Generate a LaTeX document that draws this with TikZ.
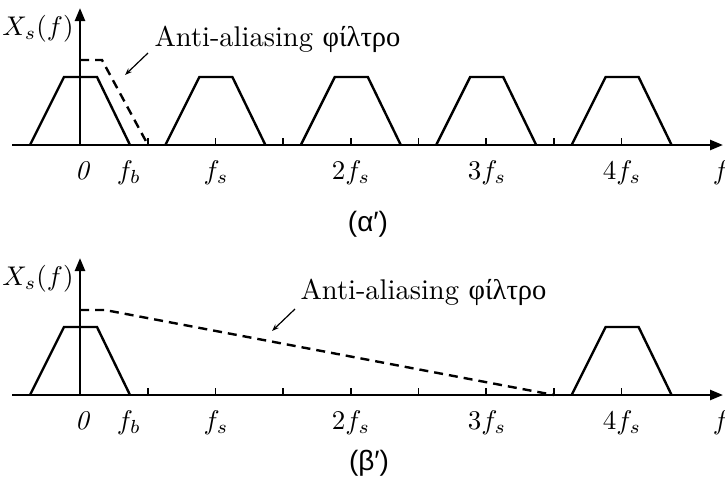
\documentclass[tikz,border=0pt]{standalone}
\usepackage{fontspec}
\newfontfamily\greekfont{Liberation Serif}
\newfontfamily\greeksans{Liberation Sans}
\usetikzlibrary{arrows.meta}
\begin{document}
\begin{tikzpicture}[x=1pt,y=-1pt,
  axisline/.style={line width=2.4pt,-{Triangle[length=13pt,width=10pt]}},
  curve/.style={line width=2.4pt,line join=miter},
  filter/.style={line width=2.4pt,dash pattern=on 9pt off 6pt},
  tickmark/.style={line width=1.6pt},
  note/.style={line width=1.2pt,-{Stealth[length=7pt,width=5pt]}},
  lbl/.style={inner sep=0pt,scale=2.7,transform shape,font=\fontsize{10}{12}\selectfont},
  notelbl/.style={inner sep=0pt,anchor=west,scale=2.85,transform shape,font=\fontsize{10}{12}\selectfont},
  captionlbl/.style={inner sep=0pt,scale=2.8,transform shape,font=\fontsize{10}{12}\selectfont\greeksans}]
\useasboundingbox (0,0) rectangle (725,480);
\def\P{135.4}
% ---------- top panel ----------
\coordinate (ta0) at (12,145);
\coordinate (ta1) at (723,145);
\coordinate (tv0) at (80,145);
\coordinate (tv1) at (80,8);
\draw[axisline] (ta0) -- (ta1);
\draw[axisline] (tv0) -- (tv1);
\foreach \k in {1,...,8}{\draw[tickmark] (80+67.7*\k,145) -- (80+67.7*\k,138);}
\foreach \n in {0,...,4}{\draw[curve] (30+\P*\n,145) -- (64+\P*\n,77) -- (97+\P*\n,77) -- (130+\P*\n,145);}
\draw[filter] (80,60) -- (102,60) -- (148,145);
\node[lbl] (tX) at (38,29) {$X_s(f)$};
\node[notelbl] (tnote) at (154,39) {Anti-aliasing {\greekfont φίλτρο}};
\coordinate (tns) at (148,53);
\coordinate (tne) at (125,75);
\draw[note] (tns) -- (tne);
\node[lbl] (t0) at (82,171) {$\mathit{0}$};
\node[lbl] (tfb) at (129,173) {$f_b$};
\node[lbl] (tfs) at (216,173) {$f_s$};
\node[lbl] (t2fs) at (351,173) {$2f_s$};
\node[lbl] (t3fs) at (487,173) {$3f_s$};
\node[lbl] (t4fs) at (622,173) {$4f_s$};
\node[lbl] (tf) at (721,173) {$f$};
\node[captionlbl] (ta) at (368,224) {(α′)};
% ---------- bottom panel ----------
\coordinate (ba0) at (12,395);
\coordinate (ba1) at (723,395);
\coordinate (bv0) at (80,395);
\coordinate (bv1) at (80,258);
\draw[axisline] (ba0) -- (ba1);
\draw[axisline] (bv0) -- (bv1);
\foreach \k in {1,...,8}{\draw[tickmark] (80+67.7*\k,395) -- (80+67.7*\k,388);}
\foreach \n in {0,4}{\draw[curve] (30+\P*\n,395) -- (64+\P*\n,327) -- (97+\P*\n,327) -- (130+\P*\n,395);}
\draw[filter] (80,310) -- (105,310) -- (554,395);
\node[lbl] (bX) at (38,279) {$X_s(f)$};
\node[notelbl] (bnote) at (300,292) {Anti-aliasing {\greekfont φίλτρο}};
\coordinate (bns) at (295,309);
\coordinate (bne) at (272,331);
\draw[note] (bns) -- (bne);
\node[lbl] (b0) at (82,421) {$\mathit{0}$};
\node[lbl] (bfb) at (129,423) {$f_b$};
\node[lbl] (bfs) at (216,423) {$f_s$};
\node[lbl] (b2fs) at (351,423) {$2f_s$};
\node[lbl] (b3fs) at (487,423) {$3f_s$};
\node[lbl] (b4fs) at (622,423) {$4f_s$};
\node[lbl] (bf) at (721,423) {$f$};
\node[captionlbl] (bb) at (369,463) {(β′)};
\end{tikzpicture}
\end{document}
